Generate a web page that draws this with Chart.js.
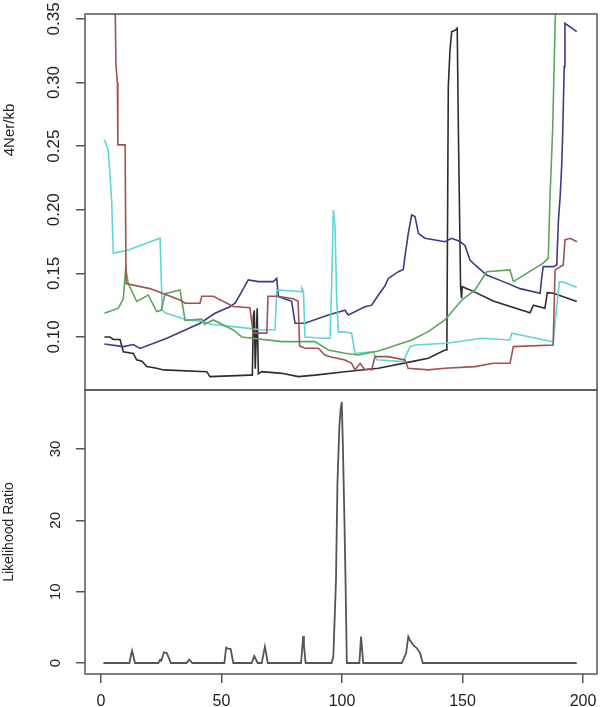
<!DOCTYPE html>
<html>
<head>
<meta charset="utf-8">
<script src="https://cdn.jsdelivr.net/npm/chart.js@4.4.1/dist/chart.umd.min.js"></script>
<style>
  body { margin: 0; background: #fff; }
  #wrap { position: relative; width: 600px; height: 707px; }
</style>
</head>
<body>
<div id="wrap"><canvas id="chart" width="600" height="707"></canvas></div>
<script>
// tick labels
const xTicks = [0, 50, 100, 150, 200];
const topTicks = [0.10, 0.15, 0.20, 0.25, 0.30, 0.35];
const lrTicks = [0, 10, 20, 30];

// upper panel: 4Ner/kb along the region
const blackX = [1.4, 3.7, 5.1, 7.9, 9.25, 13.4, 14.8, 17, 19.0, 23.1, 25.9, 43.9, 45.2, 61.8, 62.8, 63.2, 63.6, 64.0, 64.8, 65.3, 66.7, 75.0, 81.9, 88.8, 101.2, 115.1, 128.9, 135.8, 142.7, 143.5, 144.1, 144.8, 145.5, 146.9, 147.8, 148.3, 149.2, 149.6, 149.9, 153.1, 163, 178.0, 179.4, 184.2, 185.2, 187.7, 197.4];
const blackY = [0.100, 0.100, 0.098, 0.098, 0.0884, 0.087, 0.082, 0.081, 0.0767, 0.0754, 0.0741, 0.0727, 0.0688, 0.070, 0.070, 0.116, 0.121, 0.075, 0.1226, 0.071, 0.0727, 0.0714, 0.0688, 0.070, 0.0727, 0.0754, 0.0806, 0.0832, 0.0898, 0.0898, 0.2968, 0.3256, 0.340, 0.341, 0.3427, 0.26, 0.1395, 0.1304, 0.1395, 0.137, 0.128, 0.119, 0.125, 0.1226, 0.1348, 0.1343, 0.1278];

const redX = [1, 5.8, 6.2, 6.8, 7.0, 10.0, 10.4, 20.3, 32.8, 34.9, 41.1, 41.8, 46.6, 54.8, 61.8, 63.1, 68.8, 69.3, 73.4, 79.7, 81.8, 82.4, 84.6, 90.2, 92.9, 95.0, 101.2, 104.0, 105.4, 107.5, 109.5, 111, 112.3, 113.7, 119.1, 126.1, 127.4, 135.7, 142.7, 155.2, 162.7, 169.7, 171.1, 187.6, 188.4, 191.8, 192.5, 194.6, 197.5];
const redY = [0.50, 0.37, 0.314, 0.30, 0.251, 0.251, 0.142, 0.138, 0.129, 0.1265, 0.1265, 0.132, 0.132, 0.124, 0.123, 0.103, 0.103, 0.132, 0.132, 0.130, 0.128, 0.093, 0.0911, 0.0911, 0.0858, 0.0845, 0.0819, 0.0793, 0.0741, 0.0793, 0.0741, 0.075, 0.0741, 0.0845, 0.0845, 0.0819, 0.0754, 0.0741, 0.0754, 0.0767, 0.0793, 0.0793, 0.0924, 0.0937, 0.1527, 0.1566, 0.1763, 0.1776, 0.1749];

const greenX = [1.4, 7.2, 9.25, 10.25, 11.3, 14.8, 19.6, 23.1, 25, 26.6, 32.8, 34.9, 41.8, 43, 46.6, 54.9, 58.4, 75.0, 88.8, 94.3, 101.2, 106.8, 115.1, 128.9, 135.8, 142.7, 149.7, 155.2, 160.0, 169.7, 171.1, 183.5, 185.6, 186.3, 187.4, 188.4, 188.8];
const greenY = [0.1186, 0.1226, 0.130, 0.154, 0.142, 0.128, 0.133, 0.120, 0.121, 0.134, 0.137, 0.113, 0.114, 0.110, 0.1134, 0.1055, 0.100, 0.0963, 0.0963, 0.0898, 0.0872, 0.0858, 0.089, 0.0976, 0.1042, 0.1134, 0.129, 0.137, 0.1513, 0.1527, 0.1435, 0.158, 0.162, 0.2103, 0.2627, 0.344, 0.37];

const cyanX = [1.4, 3.0, 3.7, 4.4, 5.1, 10.7, 24.5, 25.4, 26.6, 33.5, 35.6, 43.2, 45.2, 54.9, 67.3, 72.2, 72.9, 83.3, 83.4, 84.0, 84.6, 92.9, 95.0, 95.7, 96.4, 97.1, 97.8, 98.5, 101.2, 104.0, 105.4, 113.0, 114.4, 125.4, 128.2, 130.3, 143.4, 158.0, 169.7, 170.4, 187.7, 188.4, 190.2, 192, 197.4];
const cyanY = [0.255, 0.247, 0.229, 0.2077, 0.1658, 0.168, 0.1776, 0.121, 0.119, 0.1147, 0.1134, 0.112, 0.110, 0.1081, 0.1055, 0.1058, 0.137, 0.1356, 0.1385, 0.1356, 0.100, 0.099, 0.099, 0.14, 0.1998, 0.1868, 0.129, 0.104, 0.104, 0.1029, 0.087, 0.0884, 0.082, 0.0806, 0.0924, 0.0937, 0.095, 0.099, 0.0976, 0.1029, 0.0963, 0.112, 0.1435, 0.143, 0.139];

const navyX = [1.4, 9.25, 13.4, 16.2, 27.3, 41.1, 47.3, 53.5, 55.6, 58.4, 61.1, 65.3, 71.5, 72.9, 73.6, 77.7, 79.1, 80.5, 84.6, 94.3, 101.2, 102.6, 109.5, 112.3, 115.1, 117.8, 119.2, 123.4, 125.4, 126.1, 127.5, 128.9, 130.3, 131.7, 134.4, 142.7, 145.5, 149.0, 151.0, 153.1, 155.2, 160.0, 166.9, 173.9, 182.2, 182.9, 183.5, 187.7, 189.1, 189.8, 190.5, 191.2, 191.6, 192.2, 192.5, 197.4];
const navyY = [0.0945, 0.0924, 0.094, 0.091, 0.099, 0.1108, 0.1186, 0.1238, 0.1265, 0.1356, 0.1448, 0.1435, 0.1435, 0.146, 0.1317, 0.129, 0.128, 0.1108, 0.1108, 0.1173, 0.121, 0.1173, 0.1238, 0.125, 0.133, 0.140, 0.146, 0.1513, 0.153, 0.163, 0.1815, 0.1959, 0.1946, 0.1815, 0.1776, 0.1749, 0.1776, 0.175, 0.172, 0.1605, 0.1566, 0.1487, 0.1435, 0.138, 0.1343, 0.1474, 0.1553, 0.1553, 0.1566, 0.192, 0.210, 0.2365, 0.2627, 0.3125, 0.3466, 0.340];

// lower panel: likelihood ratio
const lrX = [1, 11.8, 12.5, 12.9, 13.3, 14.1, 23.8, 24.5, 25.0, 26.1, 27.3, 29.0, 35.5, 36.6, 37.9, 51.2, 51.9, 52.8, 53.8, 54.9, 62.5, 63.6, 65.0, 66.7, 67.6, 68.0, 68.4, 69.2, 83.0, 83.6, 83.9, 84.2, 84.9, 95.7, 96.4, 97.5, 98.1, 98.9, 99.4, 99.9, 100.3, 101.0, 101.5, 102.0, 107.2, 107.9, 108.8, 124.8, 126.6, 127.5, 128.0, 129.6, 131.0, 132.4, 133.5, 197.4];
const lrY = [0, 0, 1.2, 1.73, 1.2, 0, 0, 0.46, 0.3, 1.5, 1.4, 0, 0, 0.47, 0, 0, 2.15, 2.0, 1.95, 0, 0, 0.98, 0, 0, 1.6, 2.29, 1.6, 0, 0, 2.5, 3.79, 2.5, 0, 0, 0.9, 11.6, 25.2, 33.1, 35.5, 36.6, 31.3, 20.1, 10.7, 0, 0, 3.7, 0, 0, 1.4, 3.7, 3.3, 2.5, 2.1, 1.4, 0, 0];

function pts(xs, ys) {
  return xs.map((x, i) => ({ x: x, y: ys[i] }));
}

function line(label, xs, ys, color, axis, width) {
  return {
    label: label,
    data: pts(xs, ys),
    yAxisID: axis,
    borderColor: color,
    borderWidth: width || 1.6,
    pointRadius: 0,
    tension: 0,
    fill: false
  };
}

// keep the plot box where the figure has it: no extra room for overhanging labels
function noPad(s) {
  s.paddingTop = 0;
  s.paddingBottom = 0;
  s.paddingLeft = 0;
  s.paddingRight = 0;
}

// box round each panel, like R's box()
const panelBox = {
  id: 'panelBox',
  afterDraw(chart) {
    const ctx = chart.ctx, a = chart.chartArea;
    ctx.save();
    ctx.strokeStyle = '#555';
    ctx.lineWidth = 1.5;
    ['yTop', 'yLR'].forEach(id => {
      const s = chart.scales[id];
      ctx.strokeRect(a.left, s.top, a.right - a.left, s.bottom - s.top);
    });
    // y label of the upper panel sits high, as in the figure
    ctx.fillStyle = '#222';
    ctx.font = '15px "Liberation Sans", Arial, sans-serif';
    ctx.textAlign = 'center';
    ctx.textBaseline = 'middle';
    ctx.translate(10, 130);
    ctx.rotate(-Math.PI / 2);
    ctx.fillText(chart.options.scales.yTop.title.text, 0, 0);
    ctx.restore();
  }
};

const tickFont = { family: '"Liberation Sans", Arial, sans-serif' };

new Chart(document.getElementById('chart'), {
  type: 'line',
  data: {
    datasets: [
      line('red', redX, redY, '#a0524f', 'yTop'),
      line('green', greenX, greenY, '#5ca65c', 'yTop'),
      line('cyan', cyanX, cyanY, '#5fd6d8', 'yTop'),
      line('navy', navyX, navyY, '#3c3c82', 'yTop'),
      line('black', blackX, blackY, '#2d2d2d', 'yTop'),
      line('Likelihood Ratio', lrX, lrY, '#555555', 'yLR', 1.8)
    ]
  },
  options: {
    responsive: false,
    animation: false,
    layout: { padding: { top: 14, right: 3, left: 0, bottom: 0 } },
    plugins: { legend: { display: false }, tooltip: { enabled: false } },
    scales: {
      x: {
        type: 'linear',
        min: -6.64,
        max: 205.8,
        afterBuildTicks: s => { s.ticks = xTicks.map(v => ({ value: v })); },
        afterFit: s => { s.height = 33; noPad(s); },
        border: { display: false },
        grid: { drawOnChartArea: false, tickLength: 9, color: '#555', lineWidth: 1.5 },
        ticks: { autoSkip: false, maxRotation: 0, padding: 9, color: '#222', font: Object.assign({ size: 16 }, tickFont) }
      },
      yLR: {
        type: 'linear',
        stack: 'panels',
        stackWeight: 284,
        min: -1.54,
        max: 38.27,
        afterBuildTicks: s => { s.ticks = lrTicks.map(v => ({ value: v })); },
        afterFit: s => { s.width = 85; noPad(s); },
        border: { display: false },
        grid: { drawOnChartArea: false, tickLength: 9, color: '#555', lineWidth: 1.5 },
        ticks: { autoSkip: false, minRotation: 90, maxRotation: 90, crossAlign: 'center', padding: 12, color: '#222', font: Object.assign({ size: 15 }, tickFont) },
        title: { display: true, text: 'Likelihood Ratio', color: '#222', padding: { top: 1 }, font: Object.assign({ size: 14 }, tickFont) }
      },
      yTop: {
        type: 'linear',
        stack: 'panels',
        stackWeight: 376,
        min: 0.0583,
        max: 0.3539,
        afterBuildTicks: s => { s.ticks = topTicks.map(v => ({ value: v })); },
        afterFit: s => { s.width = 85; noPad(s); },
        border: { display: false },
        grid: { drawOnChartArea: false, tickLength: 9, color: '#555', lineWidth: 1.5 },
        ticks: { autoSkip: false, minRotation: 90, maxRotation: 90, crossAlign: 'center', padding: 5, color: '#222', font: Object.assign({ size: 17 }, tickFont), callback: v => v.toFixed(2) },
        title: { display: false, text: '4Ner/kb' }
      }
    }
  },
  plugins: [panelBox]
});
</script>
</body>
</html>
